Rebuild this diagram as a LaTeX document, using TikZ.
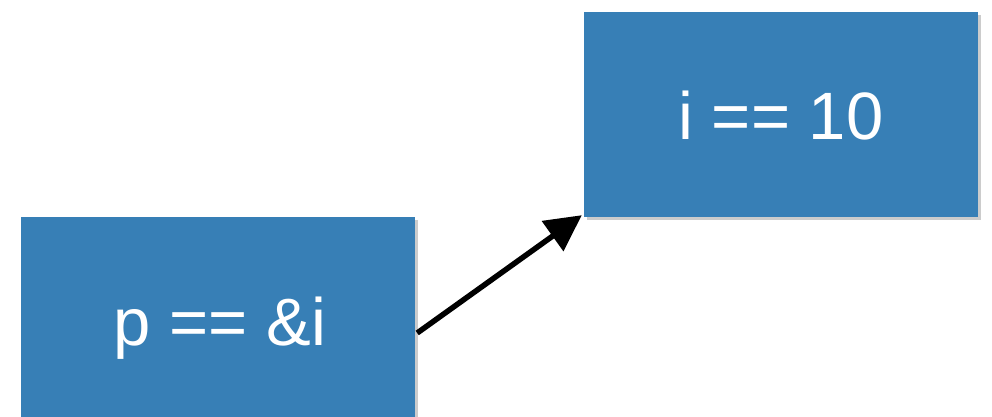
\documentclass[tikz,border=0pt]{standalone}
\usepackage{fontspec}
\setmainfont{Liberation Sans}
\usetikzlibrary{arrows.meta,shadows}
\definecolor{boxblue}{RGB}{55,127,182}
\begin{document}
\begin{tikzpicture}[x=1pt,y=-1pt,
  card/.style={fill=boxblue, draw=none, inner sep=0pt,
    drop shadow={shadow xshift=3pt, shadow yshift=-3pt, opacity=0.2, fill=black}},
  label/.style={text=white, font=\fontsize{67}{70}\selectfont},
  conn/.style={line width=5.5pt, -{Triangle[length=36pt,width=36pt]}}]
\useasboundingbox (0,0) rectangle (992,417);
\begin{scope}
\clip (0,0) rectangle (992,417);
\node[card, minimum width=394pt, minimum height=232pt] (L) at (218,333) {};
\node[card, minimum width=394pt, minimum height=205pt] (R) at (781,114.5) {};
\end{scope}
\node[label] (Lt) at (220,328) {p == \&i};
\node[label] (Rt) at (781,116) {i == 10};
\draw[conn] ([xshift=2pt]L.east) -- ([shift={(-2pt,2pt)}]R.south west);
\end{tikzpicture}
\end{document}
